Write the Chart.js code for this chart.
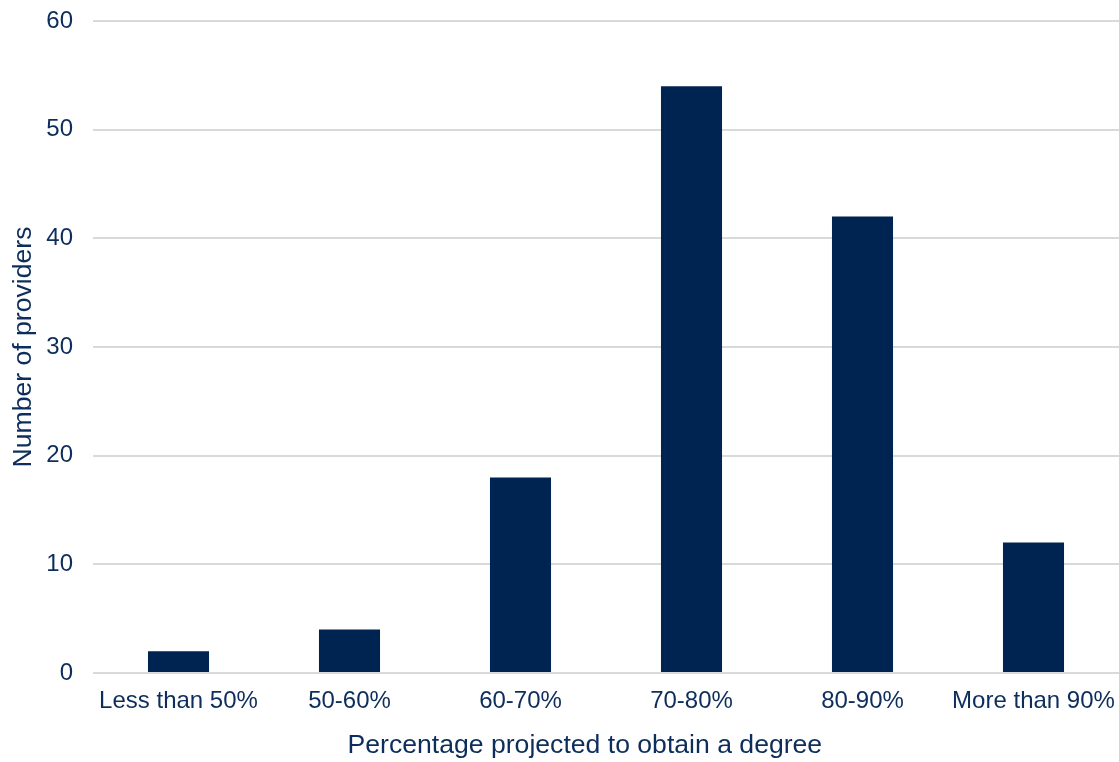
<!DOCTYPE html>
<html>
<head>
<meta charset="utf-8">
<script src="https://cdn.jsdelivr.net/npm/chart.js@4/dist/chart.umd.min.js"></script>
<style>
  html, body { margin: 0; padding: 0; background: #ffffff; }
  #wrap { width: 1119px; height: 762px; position: relative; }
</style>
</head>
<body>
<div id="wrap"><canvas id="chart"></canvas></div>
<script>
// Providers grouped by projected degree-completion rate
const categories = ['Less than 50%', '50-60%', '60-70%', '70-80%', '80-90%', 'More than 90%'];
const providerCounts = [2, 4, 18, 54, 42, 12];
const yTicks = [0, 10, 20, 30, 40, 50, 60];

const textColor = '#0d2d5c';
const barColor = '#002452';
const gridColor = '#d9d9d9';
const fontFamily = 'Liberation Sans, Arial, sans-serif';

// trailing spaces nudge the centred axis title slightly left of the plot centre
const xTitle = 'Percentage projected to obtain a degree' + '     \u2009';

new Chart(document.getElementById('chart'), {
  type: 'bar',
  data: {
    labels: categories,
    datasets: [{
      data: providerCounts,
      backgroundColor: barColor,
      borderWidth: 0,
      barPercentage: 0.357,
      categoryPercentage: 1.0
    }]
  },
  options: {
    responsive: true,
    maintainAspectRatio: false,
    animation: false,
    devicePixelRatio: 1,
    layout: { padding: { top: 21, right: 0, bottom: 0, left: 0 } },
    plugins: { legend: { display: false }, tooltip: { enabled: false } },
    scales: {
      x: {
        grid: { display: false, drawTicks: false },
        border: { display: false },
        ticks: {
          color: textColor,
          font: { family: fontFamily, size: 24 },
          padding: 14,
          maxRotation: 0,
          autoSkip: false
        },
        title: {
          display: true,
          text: xTitle,
          color: textColor,
          font: { family: fontFamily, size: 26.6 },
          padding: { top: 0, bottom: 0 }
        },
        afterFit: (scale) => {
          scale.height = 89;
          scale.paddingLeft = 0;
          scale.paddingRight = 0;
        }
      },
      y: {
        min: 0,
        max: 60,
        afterBuildTicks: (scale) => { scale.ticks = yTicks.map(v => ({ value: v })); },
        grid: { color: gridColor, lineWidth: 2, drawTicks: false },
        border: { display: false },
        ticks: {
          color: textColor,
          font: { family: fontFamily, size: 24 },
          padding: 20
        },
        title: {
          display: true,
          text: 'Number of providers',
          color: textColor,
          font: { family: fontFamily, size: 26.6 },
          padding: { top: 8, bottom: 0 }
        },
        afterFit: (scale) => {
          scale.width = 93;
          scale.paddingTop = 0;
          scale.paddingBottom = 0;
        }
      }
    }
  }
});
</script>
</body>
</html>
